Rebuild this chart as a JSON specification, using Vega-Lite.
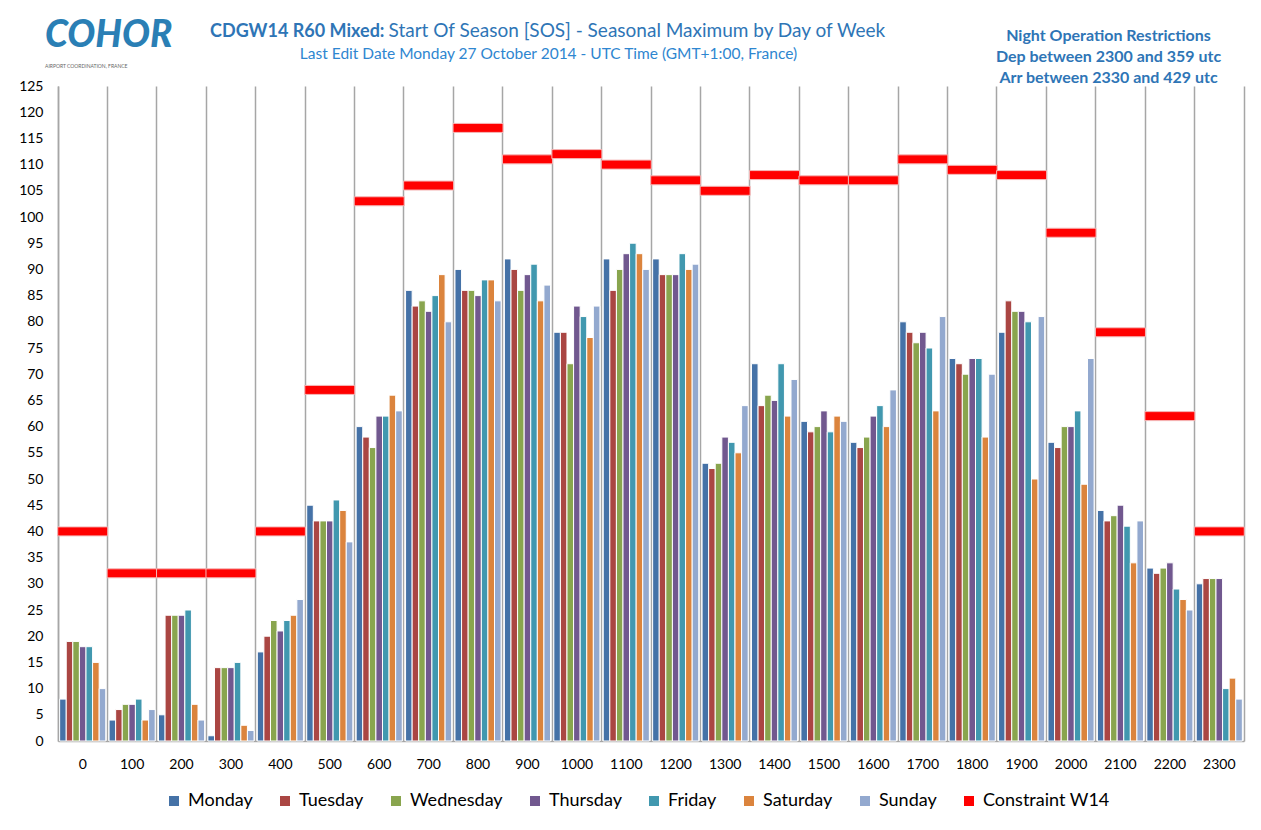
{
  "$schema": "https://vega.github.io/schema/vega-lite/v6.json",
  "width": 1186,
  "height": 655,
  "autosize": "none",
  "padding": {"left": 58, "top": 86, "right": 17, "bottom": 89},
  "background": "white",
  "config": {"font": "Lato", "view": {"stroke": null}},
  "title": {
    "text": "COHOR",
    "subtitle": "AIRPORT COORDINATION, FRANCE",
    "anchor": "start",
    "frame": "group",
    "dx": -13,
    "dy": 49,
    "offset": 0,
    "font": "Lato",
    "fontSize": 37,
    "fontStyle": "italic",
    "fontWeight": 900,
    "color": "#2A7FB5",
    "subtitleFont": "Lato",
    "subtitleFontSize": 5,
    "subtitleColor": "#666666",
    "subtitlePadding": 9
  },
  "datasets": {
    "bars": [
      {"hour":0,"day":"Monday","value":8},{"hour":0,"day":"Tuesday","value":19},{"hour":0,"day":"Wednesday","value":19},{"hour":0,"day":"Thursday","value":18},{"hour":0,"day":"Friday","value":18},{"hour":0,"day":"Saturday","value":15},{"hour":0,"day":"Sunday","value":10},
      {"hour":100,"day":"Monday","value":4},{"hour":100,"day":"Tuesday","value":6},{"hour":100,"day":"Wednesday","value":7},{"hour":100,"day":"Thursday","value":7},{"hour":100,"day":"Friday","value":8},{"hour":100,"day":"Saturday","value":4},{"hour":100,"day":"Sunday","value":6},
      {"hour":200,"day":"Monday","value":5},{"hour":200,"day":"Tuesday","value":24},{"hour":200,"day":"Wednesday","value":24},{"hour":200,"day":"Thursday","value":24},{"hour":200,"day":"Friday","value":25},{"hour":200,"day":"Saturday","value":7},{"hour":200,"day":"Sunday","value":4},
      {"hour":300,"day":"Monday","value":1},{"hour":300,"day":"Tuesday","value":14},{"hour":300,"day":"Wednesday","value":14},{"hour":300,"day":"Thursday","value":14},{"hour":300,"day":"Friday","value":15},{"hour":300,"day":"Saturday","value":3},{"hour":300,"day":"Sunday","value":2},
      {"hour":400,"day":"Monday","value":17},{"hour":400,"day":"Tuesday","value":20},{"hour":400,"day":"Wednesday","value":23},{"hour":400,"day":"Thursday","value":21},{"hour":400,"day":"Friday","value":23},{"hour":400,"day":"Saturday","value":24},{"hour":400,"day":"Sunday","value":27},
      {"hour":500,"day":"Monday","value":45},{"hour":500,"day":"Tuesday","value":42},{"hour":500,"day":"Wednesday","value":42},{"hour":500,"day":"Thursday","value":42},{"hour":500,"day":"Friday","value":46},{"hour":500,"day":"Saturday","value":44},{"hour":500,"day":"Sunday","value":38},
      {"hour":600,"day":"Monday","value":60},{"hour":600,"day":"Tuesday","value":58},{"hour":600,"day":"Wednesday","value":56},{"hour":600,"day":"Thursday","value":62},{"hour":600,"day":"Friday","value":62},{"hour":600,"day":"Saturday","value":66},{"hour":600,"day":"Sunday","value":63},
      {"hour":700,"day":"Monday","value":86},{"hour":700,"day":"Tuesday","value":83},{"hour":700,"day":"Wednesday","value":84},{"hour":700,"day":"Thursday","value":82},{"hour":700,"day":"Friday","value":85},{"hour":700,"day":"Saturday","value":89},{"hour":700,"day":"Sunday","value":80},
      {"hour":800,"day":"Monday","value":90},{"hour":800,"day":"Tuesday","value":86},{"hour":800,"day":"Wednesday","value":86},{"hour":800,"day":"Thursday","value":85},{"hour":800,"day":"Friday","value":88},{"hour":800,"day":"Saturday","value":88},{"hour":800,"day":"Sunday","value":84},
      {"hour":900,"day":"Monday","value":92},{"hour":900,"day":"Tuesday","value":90},{"hour":900,"day":"Wednesday","value":86},{"hour":900,"day":"Thursday","value":89},{"hour":900,"day":"Friday","value":91},{"hour":900,"day":"Saturday","value":84},{"hour":900,"day":"Sunday","value":87},
      {"hour":1000,"day":"Monday","value":78},{"hour":1000,"day":"Tuesday","value":78},{"hour":1000,"day":"Wednesday","value":72},{"hour":1000,"day":"Thursday","value":83},{"hour":1000,"day":"Friday","value":81},{"hour":1000,"day":"Saturday","value":77},{"hour":1000,"day":"Sunday","value":83},
      {"hour":1100,"day":"Monday","value":92},{"hour":1100,"day":"Tuesday","value":86},{"hour":1100,"day":"Wednesday","value":90},{"hour":1100,"day":"Thursday","value":93},{"hour":1100,"day":"Friday","value":95},{"hour":1100,"day":"Saturday","value":93},{"hour":1100,"day":"Sunday","value":90},
      {"hour":1200,"day":"Monday","value":92},{"hour":1200,"day":"Tuesday","value":89},{"hour":1200,"day":"Wednesday","value":89},{"hour":1200,"day":"Thursday","value":89},{"hour":1200,"day":"Friday","value":93},{"hour":1200,"day":"Saturday","value":90},{"hour":1200,"day":"Sunday","value":91},
      {"hour":1300,"day":"Monday","value":53},{"hour":1300,"day":"Tuesday","value":52},{"hour":1300,"day":"Wednesday","value":53},{"hour":1300,"day":"Thursday","value":58},{"hour":1300,"day":"Friday","value":57},{"hour":1300,"day":"Saturday","value":55},{"hour":1300,"day":"Sunday","value":64},
      {"hour":1400,"day":"Monday","value":72},{"hour":1400,"day":"Tuesday","value":64},{"hour":1400,"day":"Wednesday","value":66},{"hour":1400,"day":"Thursday","value":65},{"hour":1400,"day":"Friday","value":72},{"hour":1400,"day":"Saturday","value":62},{"hour":1400,"day":"Sunday","value":69},
      {"hour":1500,"day":"Monday","value":61},{"hour":1500,"day":"Tuesday","value":59},{"hour":1500,"day":"Wednesday","value":60},{"hour":1500,"day":"Thursday","value":63},{"hour":1500,"day":"Friday","value":59},{"hour":1500,"day":"Saturday","value":62},{"hour":1500,"day":"Sunday","value":61},
      {"hour":1600,"day":"Monday","value":57},{"hour":1600,"day":"Tuesday","value":56},{"hour":1600,"day":"Wednesday","value":58},{"hour":1600,"day":"Thursday","value":62},{"hour":1600,"day":"Friday","value":64},{"hour":1600,"day":"Saturday","value":60},{"hour":1600,"day":"Sunday","value":67},
      {"hour":1700,"day":"Monday","value":80},{"hour":1700,"day":"Tuesday","value":78},{"hour":1700,"day":"Wednesday","value":76},{"hour":1700,"day":"Thursday","value":78},{"hour":1700,"day":"Friday","value":75},{"hour":1700,"day":"Saturday","value":63},{"hour":1700,"day":"Sunday","value":81},
      {"hour":1800,"day":"Monday","value":73},{"hour":1800,"day":"Tuesday","value":72},{"hour":1800,"day":"Wednesday","value":70},{"hour":1800,"day":"Thursday","value":73},{"hour":1800,"day":"Friday","value":73},{"hour":1800,"day":"Saturday","value":58},{"hour":1800,"day":"Sunday","value":70},
      {"hour":1900,"day":"Monday","value":78},{"hour":1900,"day":"Tuesday","value":84},{"hour":1900,"day":"Wednesday","value":82},{"hour":1900,"day":"Thursday","value":82},{"hour":1900,"day":"Friday","value":80},{"hour":1900,"day":"Saturday","value":50},{"hour":1900,"day":"Sunday","value":81},
      {"hour":2000,"day":"Monday","value":57},{"hour":2000,"day":"Tuesday","value":56},{"hour":2000,"day":"Wednesday","value":60},{"hour":2000,"day":"Thursday","value":60},{"hour":2000,"day":"Friday","value":63},{"hour":2000,"day":"Saturday","value":49},{"hour":2000,"day":"Sunday","value":73},
      {"hour":2100,"day":"Monday","value":44},{"hour":2100,"day":"Tuesday","value":42},{"hour":2100,"day":"Wednesday","value":43},{"hour":2100,"day":"Thursday","value":45},{"hour":2100,"day":"Friday","value":41},{"hour":2100,"day":"Saturday","value":34},{"hour":2100,"day":"Sunday","value":42},
      {"hour":2200,"day":"Monday","value":33},{"hour":2200,"day":"Tuesday","value":32},{"hour":2200,"day":"Wednesday","value":33},{"hour":2200,"day":"Thursday","value":34},{"hour":2200,"day":"Friday","value":29},{"hour":2200,"day":"Saturday","value":27},{"hour":2200,"day":"Sunday","value":25},
      {"hour":2300,"day":"Monday","value":30},{"hour":2300,"day":"Tuesday","value":31},{"hour":2300,"day":"Wednesday","value":31},{"hour":2300,"day":"Thursday","value":31},{"hour":2300,"day":"Friday","value":10},{"hour":2300,"day":"Saturday","value":12},{"hour":2300,"day":"Sunday","value":8}
    ],
    "constraint": [
      {"hour":0,"series":"Constraint W14","value":40},{"hour":100,"series":"Constraint W14","value":32},{"hour":200,"series":"Constraint W14","value":32},{"hour":300,"series":"Constraint W14","value":32},
      {"hour":400,"series":"Constraint W14","value":40},{"hour":500,"series":"Constraint W14","value":67},{"hour":600,"series":"Constraint W14","value":103},{"hour":700,"series":"Constraint W14","value":106},
      {"hour":800,"series":"Constraint W14","value":117},{"hour":900,"series":"Constraint W14","value":111},{"hour":1000,"series":"Constraint W14","value":112},{"hour":1100,"series":"Constraint W14","value":110},
      {"hour":1200,"series":"Constraint W14","value":107},{"hour":1300,"series":"Constraint W14","value":105},{"hour":1400,"series":"Constraint W14","value":108},{"hour":1500,"series":"Constraint W14","value":107},
      {"hour":1600,"series":"Constraint W14","value":107},{"hour":1700,"series":"Constraint W14","value":111},{"hour":1800,"series":"Constraint W14","value":109},{"hour":1900,"series":"Constraint W14","value":108},
      {"hour":2000,"series":"Constraint W14","value":97},{"hour":2100,"series":"Constraint W14","value":78},{"hour":2200,"series":"Constraint W14","value":62},{"hour":2300,"series":"Constraint W14","value":40}
    ]
  },
  "layer": [
    {
      "data": {"name": "bars"},
      "mark": {"type": "bar", "stroke": "white", "strokeWidth": 1},
      "encoding": {
        "x": {
          "field": "hour", "type": "ordinal",
          "scale": {"paddingInner": 0, "paddingOuter": 0},
          "axis": {
            "orient": "bottom", "labelAngle": 0, "ticks": false, "grid": false,
            "domainColor": "#a6a6a6", "domainWidth": 1.5,
            "labelFontSize": 14, "labelPadding": 16, "labelColor": "#000000",
            "title": "Last Edit Date Monday 27 October 2014 - UTC Time (GMT+1:00, France)",
            "titleX": 490, "titleY": -683, "titleAlign": "center", "titleBaseline": "alphabetic",
            "titleFontSize": 15.5, "titleFontWeight": "normal", "titleColor": "#2E86D0"
          }
        },
        "xOffset": {
          "field": "day", "type": "nominal",
          "scale": {"domain": ["Monday","Tuesday","Wednesday","Thursday","Friday","Saturday","Sunday"], "paddingOuter": 0.25, "paddingInner": 0}
        },
        "y": {
          "field": "value", "type": "quantitative",
          "scale": {"domain": [0, 125], "nice": false},
          "axis": {
            "orient": "left",
            "values": [0,5,10,15,20,25,30,35,40,45,50,55,60,65,70,75,80,85,90,95,100,105,110,115,120,125],
            "grid": false, "ticks": false,
            "domainColor": "#a6a6a6", "domainWidth": 1.5,
            "labelFontSize": 14, "labelPadding": 15, "labelColor": "#000000",
            "title": "Start Of Season [SOS] - Seasonal Maximum  by Day of Week",
            "titleAngle": 0, "titleX": 330, "titleY": -50, "titleAlign": "left", "titleBaseline": "alphabetic",
            "titleFontSize": 19, "titleFontWeight": "normal", "titleColor": "#2E75B6"
          }
        },
        "color": {
          "field": "day", "type": "nominal",
          "scale": {
            "domain": ["Monday","Tuesday","Wednesday","Thursday","Friday","Saturday","Sunday","Constraint W14"],
            "range": ["#4572A7","#AA4643","#89A54E","#71588F","#4198AF","#DB843D","#93A9CF","#FF0000"]
          },
          "legend": {
            "title": null, "orient": "none", "legendX": 107, "legendY": 706, "direction": "horizontal",
            "symbolType": "square", "symbolSize": 100, "symbolStrokeWidth": 0,
            "labelFontSize": 18, "labelColor": "#000000", "labelOffset": 5,
            "columnPadding": 23,
            "encode": {"symbols": {"update": {"shape": {"signal": "datum.value == 'Constraint W14' ? 'M-1,-0.3H1V0.3H-1Z' : 'square'"}}}}
          }
        }
      }
    },
    {
      "data": {"name": "constraint"},
      "mark": {"type": "tick", "orient": "horizontal", "thickness": 9, "size": 50, "stroke": "#f4b8b8", "strokeWidth": 1, "opacity": 1},
      "encoding": {
        "x": {
          "field": "hour", "type": "ordinal",
          "axis": {
            "orient": "top", "grid": true, "bandPosition": 0,
            "gridColor": "#a6a6a6", "gridWidth": 1.5,
            "labels": false, "ticks": false, "domain": false,
            "title": "CDGW14 R60 Mixed:",
            "titleX": 326, "titleY": -50, "titleAlign": "right", "titleBaseline": "alphabetic",
            "titleFontSize": 18, "titleFontWeight": "bold", "titleColor": "#2E75B6"
          }
        },
        "y": {
          "field": "value", "type": "quantitative",
          "axis": {
            "orient": "right", "labels": false, "ticks": false, "grid": false,
            "domainColor": "#a6a6a6", "domainWidth": 1.5,
            "title": ["Night Operation Restrictions", "Dep between 2300 and  359 utc", "Arr between 2330 and  429 utc"],
            "titleAngle": 0, "titleX": -136, "titleY": -46, "titleAlign": "center", "titleBaseline": "alphabetic",
            "titleFontSize": 16, "titleFontWeight": "bold", "titleColor": "#2E75B6", "titleLineHeight": 21
          }
        },
        "color": {
          "field": "series", "type": "nominal",
          "scale": {
            "domain": ["Monday","Tuesday","Wednesday","Thursday","Friday","Saturday","Sunday","Constraint W14"],
            "range": ["#4572A7","#AA4643","#89A54E","#71588F","#4198AF","#DB843D","#93A9CF","#FF0000"]
          },
          "legend": {
            "title": null, "orient": "none", "legendX": 107, "legendY": 706, "direction": "horizontal",
            "symbolType": "square", "symbolSize": 100, "symbolStrokeWidth": 0,
            "labelFontSize": 18, "labelColor": "#000000", "labelOffset": 5,
            "columnPadding": 23,
            "encode": {"symbols": {"update": {"shape": {"signal": "datum.value == 'Constraint W14' ? 'M-1,-0.3H1V0.3H-1Z' : 'square'"}}}}
          }
        }
      }
    }
  ],
  "resolve": {"axis": {"x": "independent", "y": "independent"}}
}
